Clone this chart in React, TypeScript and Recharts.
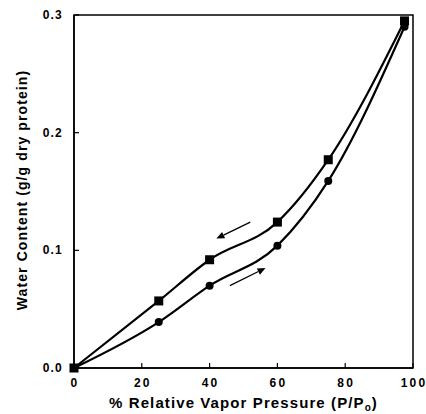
import React from "react";
import {
  LineChart,
  Line,
  XAxis,
  YAxis,
  ReferenceArea,
  ReferenceLine,
} from "recharts";

const relativePressure = [0, 25, 40, 60, 75, 97.5];
const desorption = [0, 0.057, 0.092, 0.124, 0.177, 0.295];
const adsorption = [0, 0.039, 0.07, 0.104, 0.159, 0.29];

const xTicks = [0, 20, 40, 60, 80, 100];
const yTicks = [0, 0.1, 0.2, 0.3];

// arrows: [from, to] in data units
const arrowDown = [
  { x: 52, y: 0.124 },
  { x: 42, y: 0.11 },
];
const arrowUp = [
  { x: 46, y: 0.07 },
  { x: 56.5, y: 0.085 },
];

const data = relativePressure.map((rh, i) => ({
  rh,
  desorption: desorption[i],
  adsorption: adsorption[i],
}));

const font = "'Liberation Sans', Arial, sans-serif";

function Arrow(props: any) {
  const { x1, y1, x2, y2 } = props;
  const ang = Math.atan2(y2 - y1, x2 - x1);
  const len = 8;
  const w = 3.5;
  const bx = x2 - len * Math.cos(ang);
  const by = y2 - len * Math.sin(ang);
  const px = -Math.sin(ang) * w;
  const py = Math.cos(ang) * w;
  return (
    <g>
      <line x1={x1} y1={y1} x2={bx} y2={by} stroke="#000" strokeWidth={1.3} />
      <polygon
        points={`${x2},${y2} ${bx + px},${by + py} ${bx - px},${by - py}`}
        fill="#000"
      />
    </g>
  );
}

function YTick(props: any) {
  const { x, y, payload } = props;
  return (
    <g>
      <line x1={x} y1={y} x2={x + 5} y2={y} stroke="#000" strokeWidth={1.2} />
      <text
        x={x - 11}
        y={y}
        dy={4}
        textAnchor="end"
        fontFamily={font}
        fontWeight="bold"
        fontSize={12}
        letterSpacing={1.2}
        fill="#000"
      >
        {payload.value.toFixed(1)}
      </text>
    </g>
  );
}

function XTick(props: any) {
  const { x, y, payload } = props;
  return (
    <g>
      <line x1={x} y1={y} x2={x} y2={y - 5} stroke="#000" strokeWidth={1.2} />
      <text
        x={x + 1}
        y={y + 19}
        textAnchor="middle"
        fontFamily={font}
        fontWeight="bold"
        fontSize={12}
        letterSpacing={2.2}
        fill="#000"
      >
        {payload.value}
      </text>
    </g>
  );
}

function Square(props: any) {
  const { cx, cy } = props;
  return <rect x={cx - 4.5} y={cy - 4.5} width={9} height={9} fill="#000" />;
}

function Dot(props: any) {
  const { cx, cy } = props;
  return <circle cx={cx} cy={cy} r={4} fill="#000" />;
}

export default function App() {
  return (
    <div style={{ position: "absolute", left: 0, top: 0, background: "#fff" }}>
      <LineChart
        width={426}
        height={414}
        data={data}
        margin={{ top: 15, right: 13, bottom: 0, left: 0 }}
      >
        <XAxis
          dataKey="rh"
          type="number"
          domain={[0, 100]}
          ticks={xTicks}
          tick={<XTick />}
          tickLine={false}
          tickSize={0}
          tickMargin={0}
          height={46}
          stroke="#000"
          strokeWidth={1.5}
          label={{
            content: (p: any) => {
              const vb = p.viewBox;
              return (
                <text
                  x={vb.x + vb.width / 2}
                  y={408}
                  textAnchor="middle"
                  fontFamily={font}
                  fontWeight="bold"
                  fontSize={15}
                  letterSpacing={1.1}
                  fill="#000"
                >
                  % Relative Vapor Pressure (P/P
                  <tspan fontSize={10} dy={3}>o</tspan>
                  <tspan dy={-3}>)</tspan>
                </text>
              );
            },
          }}
        />
        <YAxis
          type="number"
          domain={[0, 0.3]}
          ticks={yTicks}
          tick={<YTick />}
          tickLine={false}
          tickSize={0}
          tickMargin={0}
          width={74}
          stroke="#000"
          strokeWidth={1.5}
          label={{
            content: () => (
              <text
                x={22}
                y={190}
                transform="rotate(-90 22 190)"
                textAnchor="middle"
                dominantBaseline="central"
                fontFamily={font}
                fontWeight="bold"
                fontSize={14}
                letterSpacing={1.1}
                fill="#000"
              >
                Water Content (g/g dry protein)
              </text>
            ),
          }}
        />
        <ReferenceArea
          x1={0}
          x2={100}
          y1={0}
          y2={0.3}
          fill="none"
          stroke="#000"
          strokeWidth={1.5}
          fillOpacity={0}
        />
        <ReferenceLine
          segment={arrowDown}
          shape={(p: any) => <Arrow {...p} />}
        />
        <ReferenceLine segment={arrowUp} shape={(p: any) => <Arrow {...p} />} />
        <Line
          dataKey="desorption"
          type="monotone"
          stroke="#000"
          strokeWidth={2.2}
          dot={<Square />}
          isAnimationActive={false}
        />
        <Line
          dataKey="adsorption"
          type="monotone"
          stroke="#000"
          strokeWidth={2.2}
          dot={<Dot />}
          isAnimationActive={false}
        />
      </LineChart>
    </div>
  );
}
